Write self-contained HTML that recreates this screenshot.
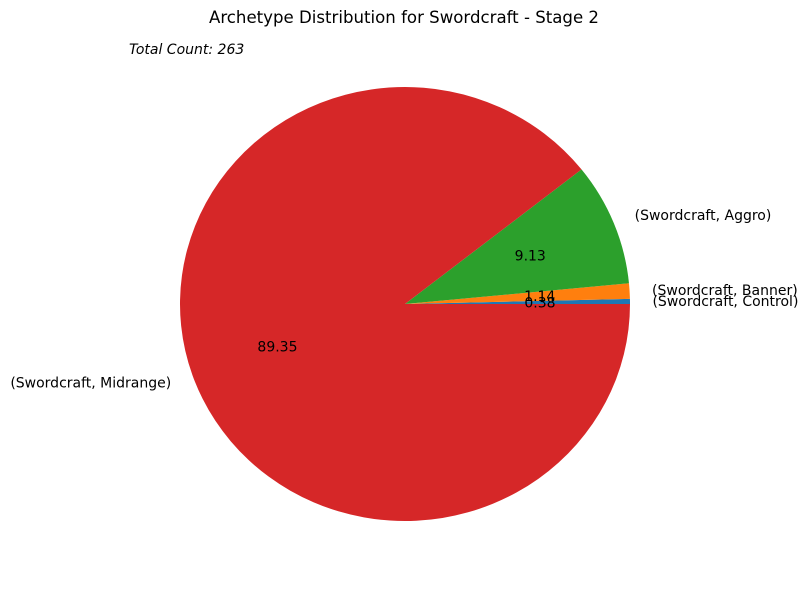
<!DOCTYPE html>
<html><head><meta charset="utf-8"><style>
body{margin:0;background:#fff;}
svg text{font-family:"DejaVu Sans","Liberation Sans",sans-serif;}
</style></head><body>
<svg id="chart" width="808" height="590" xmlns="http://www.w3.org/2000/svg">
<rect width="808" height="590" fill="#fff"/>
<text x="404" y="23" text-anchor="middle" font-size="16.6">Archetype Distribution for Swordcraft - Stage 2</text>
<text x="129" y="54" font-size="14" font-style="italic">Total Count: 263</text>
<g id="slices"></g>
<g id="labels"></g>
</svg>
<script>
const categories = ["(Swordcraft, Control)", "(Swordcraft, Banner)", "(Swordcraft, Aggro)", "(Swordcraft, Midrange)"];
const counts = [1, 3, 24, 235];
const colors = ["#1f77b4", "#ff7f0e", "#2ca02c", "#d62728"];
const ns = "http://www.w3.org/2000/svg";
const cx = 405, cy = 304, rx = 225, ry = 217;
const total = counts.reduce((a, b) => a + b, 0);
const gS = document.getElementById('slices'), gL = document.getElementById('labels');
function pt(a, f) { return [cx + f * rx * Math.cos(a), cy - f * ry * Math.sin(a)]; }
let start = 0;
counts.forEach((c, i) => {
  const frac = c / total, end = start + frac * 2 * Math.PI;
  const p0 = pt(start, 1), p1 = pt(end, 1);
  const large = (end - start) > Math.PI ? 1 : 0;
  const path = document.createElementNS(ns, 'path');
  path.setAttribute('d', `M${cx},${cy} L${p0[0]},${p0[1]} A${rx},${ry} 0 ${large} 0 ${p1[0]},${p1[1]} Z`);
  path.setAttribute('fill', colors[i]);
  
  
  gS.appendChild(path);
  const mid = (start + end) / 2;
  const lp = pt(mid, 1.1);
  const t = document.createElementNS(ns, 'text');
  t.setAttribute('x', lp[0]); t.setAttribute('y', lp[1] + 5);
  t.setAttribute('font-size', '14');
  t.setAttribute('text-anchor', Math.cos(mid) >= 0 ? 'start' : 'end');
  t.textContent = categories[i];
  
  
  gL.appendChild(t);
  const pp = pt(mid, 0.6);
  const v = document.createElementNS(ns, 'text');
  v.setAttribute('x', pp[0]); v.setAttribute('y', pp[1] + 5);
  v.setAttribute('font-size', '14');
  v.setAttribute('text-anchor', 'middle');
  v.textContent = (frac * 100).toFixed(2);
  
  
  gL.appendChild(v);
  start = end;
});
</script>
</body></html>
